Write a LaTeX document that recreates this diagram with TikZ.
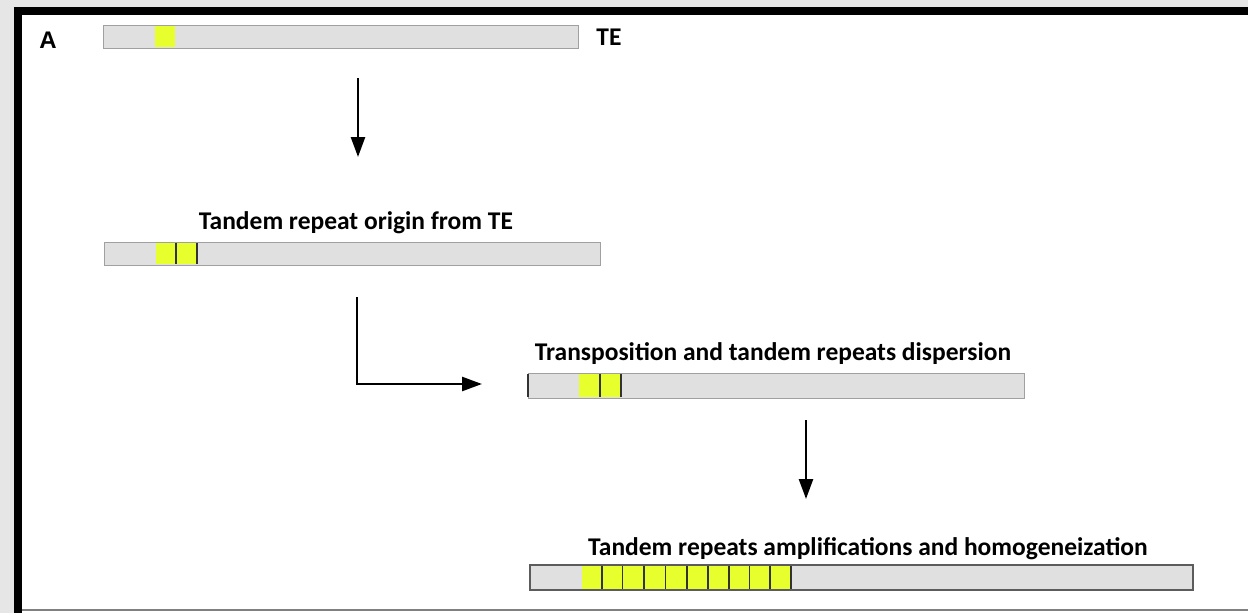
\documentclass[tikz,border=0pt]{standalone}
\usepackage{fontspec}
\setmainfont{Carlito}
\newfontfamily\arialf{Liberation Sans}
\usetikzlibrary{arrows.meta}
\definecolor{bggray}{HTML}{E6E6E7}
\definecolor{barfill}{HTML}{E0E0E0}
\definecolor{barline}{HTML}{A0A0A0}
\definecolor{tryellow}{HTML}{E8FF2E}
\definecolor{divline}{HTML}{333333}
\tikzset{
  bar/.style={draw=barline, fill=barfill, line width=1.3pt, rectangle, inner sep=0pt, minimum height=23pt},
  lbl/.style={font=\bfseries\fontsize{25.5}{30}\selectfont, inner sep=0pt, anchor=base},
  flow/.style={line width=2.6pt, -{Triangle[length=20pt,width=14pt]}},
  divider/.style={draw=divline, line width=1.5pt}
}
\begin{document}
\begin{tikzpicture}[x=1pt,y=-1pt]
\useasboundingbox (0,0) rectangle (1248,613);
\fill[bggray] (0,0) rectangle (1248,613);
\fill[black] (14,7) rectangle (1248,613);
\fill[white] (22,15) rectangle (1248,613);
\draw[gray, line width=1.5pt] (22,610) -- (1248,610);

% letter A
\node[font=\arialf\bfseries\fontsize{24}{28}\selectfont, inner sep=0pt, anchor=base] (A) at (48,48) {A};

% bar 1
\node[bar, minimum width=475pt, anchor=north west] (b1) at (103,25) {};
\fill[tryellow] (155,25.7) rectangle (175,47.3);
\node[lbl] (te) at (609,45.5) {TE};

% arrow 1
\coordinate (a1s) at (358,78);
\coordinate (a1e) at (358,157);
\draw[flow] (a1s) -- (a1e);

% bar 2
\node[lbl] (t2) at (356,229.5) {Tandem repeat origin from TE};
\node[bar, minimum width=496pt, anchor=north west] (b2) at (104,242) {};
\fill[tryellow] (156,242.7) rectangle (197,264.3);
\draw[divider] (176,242.7) -- (176,264.3);
\draw[divider] (197,242.7) -- (197,264.3);

% arrow 2
\coordinate (a2s) at (357,297);
\coordinate (a2c) at (357,384);
\coordinate (a2e) at (482,384);
\draw[flow] (a2s) -- (a2c) -- (a2e);

% bar 3
\node[lbl] (t3) at (773,360.5) {Transposition and tandem repeats dispersion};
\node[bar, minimum width=496pt, minimum height=25pt, anchor=north west] (b3) at (528,373) {};
\fill[tryellow] (579,373.7) rectangle (621,397.3);
\draw[divider] (528,373.7) -- (528,397.3);
\draw[divider] (600,373.7) -- (600,397.3);
\draw[divider] (621,373.7) -- (621,397.3);

% arrow 3
\coordinate (a3s) at (806,420);
\coordinate (a3e) at (806,499);
\draw[flow] (a3s) -- (a3e);

% bar 4
\node[lbl] (t4) at (868,555) {Tandem repeats amplifications and homogeneization};
\node[bar, draw=divline!80, minimum width=663pt, minimum height=25pt, anchor=north west] (b4) at (530,565) {};
\fill[tryellow] (582,566) rectangle (791,589);
\foreach \x in {602,622.5,644,665.5,687,708,729,749.5,770,791}
  \draw[divider] (\x,566) -- (\x,589);
\draw[draw=divline!80, line width=1.5pt] (530,565) rectangle (1193,590);
\end{tikzpicture}
\end{document}
